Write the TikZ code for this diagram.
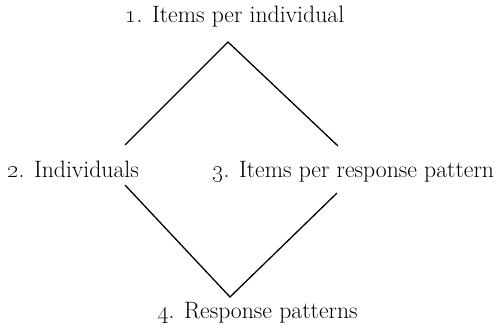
\documentclass[tikz,border=0pt]{standalone}
\tikzset{
  lbl/.style={inner sep=0pt, anchor=base west, font=\fontsize{23.7}{28}\selectfont},
  edge/.style={line width=1.3pt, line cap=butt}
}
\begin{document}
\begin{tikzpicture}[x=1pt, y=-1pt]
\useasboundingbox (0,0) rectangle (502,331);
\node[lbl] (n1) at (125,23) {\oldstylenums{1}. Items per individual};
\node[lbl] (n2) at (7,177) {\oldstylenums{2}. Individuals};
\node[lbl] (n3) at (212,177) {\oldstylenums{3}. Items per response pattern};
\node[lbl] (n4) at (157,318) {\oldstylenums{4}. Response patterns};
\coordinate (top) at (228,42);
\coordinate (ul) at (125,145);
\coordinate (ur) at (338,146);
\coordinate (ll) at (125,185);
\coordinate (lr) at (337,193);
\coordinate (bot) at (230,297);
\draw[edge] (ul) -- (top) -- (ur);
\draw[edge] (ll) -- (bot) -- (lr);
\end{tikzpicture}
\end{document}
